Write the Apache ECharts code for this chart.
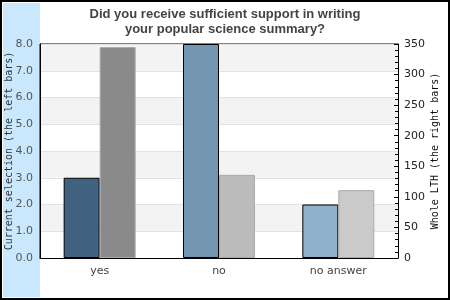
<!DOCTYPE html>
<html>
<head>
<meta charset="utf-8">
<script src="https://cdn.jsdelivr.net/npm/echarts@6/dist/echarts.min.js"></script>
<style>
html,body{margin:0;padding:0;background:#fff;}
#c{width:450px;height:300px;}
</style>
</head>
<body>
<div id="c"></div>
<script>
var categories = ['yes', 'no', 'no answer'];
var currentSelection = [3, 8, 2];
var wholeLTH = [345, 136, 111];
var leftColors = ['#3f6280', '#7296b2', '#8fb1cc'];
var rightColors = ['#8a8a8a', '#bbbbbb', '#cacaca'];

var chart = echarts.init(document.getElementById('c'));
chart.setOption({
  animation: false,
  title: {
    text: 'Did you receive sufficient support in writing\nyour popular science summary?',
    left: 'center',
    top: 2,
    textStyle: {
      fontFamily: 'Liberation Sans',
      fontWeight: 'bold',
      fontSize: 13,
      color: '#444',
      lineHeight: 15
    }
  },
  graphic: [
    {type: 'rect', z: -10, shape: {x: 3, y: 3, width: 37, height: 294}, style: {fill: '#c9e7fd'}},
    {type: 'rect', z: 100, shape: {x: 1, y: 1, width: 448, height: 298}, style: {fill: 'none', stroke: '#000', lineWidth: 2}}
  ],
  grid: {
    left: 40, right: 52, top: 44, bottom: 42,
    outerBoundsMode: 'none',
    containLabel: false,
    show: true, borderColor: '#000', borderWidth: 1, backgroundColor: 'transparent'
  },
  xAxis: {
    type: 'category',
    data: categories,
    axisLine: {lineStyle: {color: '#000', width: 1}},
    axisTick: {show: false},
    axisLabel: {color: '#444', fontFamily: 'DejaVu Sans', fontSize: 11, margin: 8}
  },
  yAxis: [
    {
      type: 'value', min: 0, max: 8, interval: 1,
      position: 'left',
      name: 'Current selection (the left bars)',
      nameLocation: 'middle', nameGap: 26, nameRotate: 90,
      nameMoveOverlap: false,
      nameTextStyle: {fontFamily: 'DejaVu Sans Mono', fontSize: 10, color: '#333'},
      axisLine: {show: true, lineStyle: {color: '#000'}},
      axisTick: {show: false},
      axisLabel: {color: '#555', fontFamily: 'DejaVu Sans', fontSize: 11, margin: 7,
        formatter: function (v) { return v.toFixed(1); }},
      splitLine: {show: true, lineStyle: {color: '#e2e2e2'}},
      splitArea: {show: true, areaStyle: {color: ['#ffffff', '#f3f3f3']}}
    },
    {
      type: 'value', min: 0, max: 350, interval: 50,
      position: 'right',
      name: 'Whole LTH (the right bars)',
      nameLocation: 'middle', nameGap: 32, nameRotate: 90,
      nameMoveOverlap: false,
      nameTextStyle: {fontFamily: 'DejaVu Sans Mono', fontSize: 10, color: '#111'},
      axisLine: {show: true, lineStyle: {color: '#000'}},
      axisTick: {show: true, inside: true, length: 4, lineStyle: {color: '#000'}},
      minorTick: {show: true, splitNumber: 5, length: 3, lineStyle: {color: '#000'}},
      axisLabel: {color: '#222', fontFamily: 'DejaVu Sans', fontSize: 11, margin: 6},
      splitLine: {show: false}
    }
  ],
  series: [
    {
      type: 'bar', yAxisIndex: 0, barWidth: 36, barGap: '0%',
      data: currentSelection.map(function (v, i) {
        return {value: v, itemStyle: {color: leftColors[i], borderColor: '#000', borderWidth: 1}};
      })
    },
    {
      type: 'bar', yAxisIndex: 1, barWidth: 36, barGap: '0%',
      data: wholeLTH.map(function (v, i) {
        return {value: v, itemStyle: {color: rightColors[i], borderColor: '#aaaaaa', borderWidth: 1}};
      })
    }
  ]
});
</script>
</body>
</html>
